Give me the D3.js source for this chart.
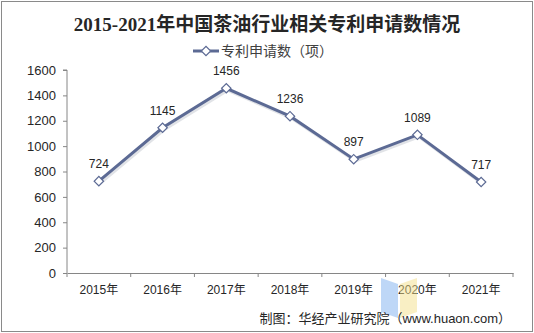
<!DOCTYPE html>
<html><head><meta charset="utf-8">
<script src="https://cdn.jsdelivr.net/npm/d3@7"></script>
<style>body{margin:0;background:#fff}svg{display:block}</style>
</head><body><svg id="c" width="534" height="333"></svg>
<script>
const categories = ["2015年","2016年","2017年","2018年","2019年","2020年","2021年"];
const values = [724,1145,1456,1236,897,1089,717];
const yTicks = [0,200,400,600,800,1000,1200,1400,1600];
const title = "2015-2021年中国茶油行业相关专利申请数情况";
const seriesName = "专利申请数（项）";
const source = "制图：华经产业研究院（www.huaon.com）";

const svg = d3.select("#c");
const W=534,H=333;
svg.append("rect").attr("x",1.5).attr("y",1.5).attr("width",W-3).attr("height",H-3).attr("fill","#fff").attr("stroke","#8a8a8a").attr("stroke-width",1);

const m={l:67,r:513,t:70,b:273};
const x=d3.scaleBand().domain(categories).range([m.l,m.r]);
const y=d3.scaleLinear().domain([0,1600]).range([m.b,m.t]);
const font="'Liberation Sans','Noto Sans CJK SC',sans-serif";
const diamond=d3.symbol(d3.symbolSquare,44)();

// title
svg.append("text").attr("x",267).attr("y",31).attr("text-anchor","middle")
  .attr("font-family","'Liberation Serif','Noto Sans CJK SC',serif").attr("font-weight","bold")
  .attr("font-size",19).attr("fill","#262626").text(title);

// legend
const lg=svg.append("g");
lg.append("line").attr("x1",193).attr("x2",219).attr("y1",51).attr("y2",51).attr("stroke","#5c6a94").attr("stroke-width",3);
lg.append("path").attr("d",diamond).attr("transform","translate(206,51) rotate(45)").attr("fill","#fff").attr("stroke","#5c6a94").attr("stroke-width",1.2);
lg.append("text").attr("x",221).attr("y",56).attr("font-family",font).attr("font-size",14).attr("fill","#404040").text(seriesName);

// y axis
const ya=svg.append("g").attr("transform",`translate(${m.l},0)`)
  .call(d3.axisLeft(y).tickValues(yTicks).tickSize(4).tickPadding(7).tickFormat(d3.format("d")));
ya.select(".domain").attr("stroke","#868686").attr("d",`M-4,${m.t}H0V${m.b}`);
ya.selectAll(".tick line").attr("stroke","#868686");
ya.selectAll("text").attr("font-family",font).attr("font-size",13).attr("fill","#262626");

// x axis
const xa=svg.append("g").attr("transform",`translate(0,${m.b})`)
  .call(d3.axisBottom(x).tickSize(0).tickPadding(12));
xa.select(".domain").attr("stroke","#868686");
xa.selectAll("text").attr("font-family",font).attr("font-size",12).attr("fill","#262626");
xa.selectAll(".bt").data(d3.range(categories.length+1)).enter().append("line")
  .attr("x1",i=>m.l+i*x.step()).attr("x2",i=>m.l+i*x.step()).attr("y1",0).attr("y2",4).attr("stroke","#868686");

// watermark logo (shapes only)
const wm=svg.append("g").attr("opacity",0.5);
wm.append("path").attr("d","M381,278 L398,284 L398,318 L381,312Z").attr("fill","#7fb0f0");
wm.append("path").attr("d","M400,284 L417,278 L417,312 L400,318Z").attr("fill","#f5e08a");

// line
const cx=d=>x(d)+x.bandwidth()/2;
const line=d3.line().x((d,i)=>cx(categories[i])).y(d=>y(d));
svg.append("path").datum(values).attr("d",line).attr("fill","none").attr("stroke","#c4c7d0").attr("stroke-width",3).attr("transform","translate(1.5,2)").attr("opacity",0.5);
svg.append("path").datum(values).attr("d",line).attr("fill","none").attr("stroke","#5c6a94").attr("stroke-width",3);
svg.selectAll(".pt").data(values).enter().append("path")
  .attr("d",diamond)
  .attr("transform",(d,i)=>`translate(${cx(categories[i])},${y(d)}) rotate(45)`)
  .attr("fill","#fff").attr("stroke","#5c6a94").attr("stroke-width",1.2);
svg.selectAll(".lb").data(values).enter().append("text")
  .attr("x",(d,i)=>cx(categories[i])).attr("y",d=>y(d)-13).attr("text-anchor","middle")
  .attr("font-family",font).attr("font-size",12).attr("fill","#262626").text(d=>d);

// source
svg.append("text").attr("x",511).attr("y",323).attr("text-anchor","end").attr("font-family",font).attr("font-size",13).attr("fill","#262626").text(source);
</script></body></html>
